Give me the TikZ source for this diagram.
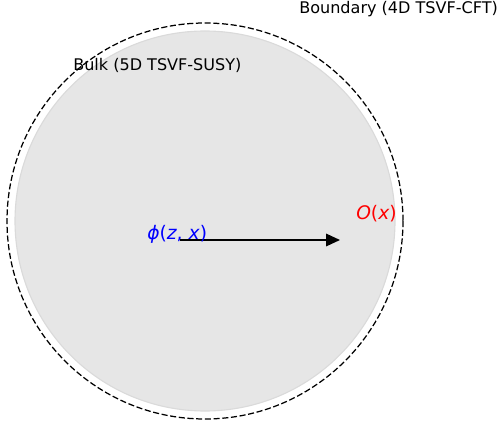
\documentclass[tikz,border=0pt]{standalone}
\usepackage{fontspec}
\setmainfont{DejaVu Sans}
\usepackage{xcolor}
\usepackage{tikz}
\usetikzlibrary{arrows.meta}
\definecolor{bulkgray}{RGB}{230,230,230}
\definecolor{bulkedge}{RGB}{218,218,218}

\begin{document}
\begin{tikzpicture}[x=0.72bp,y=-0.72bp,font=\fontsize{11.6}{14}\selectfont]
\useasboundingbox (0,0) rectangle (502,426);
\fill[bulkgray,draw=bulkedge,line width=0.8] (205,221) circle[radius=190];
\draw[dash pattern=on 4.4 off 1.9,line width=0.9] (205,221) circle[radius=198];
\node[anchor=west,inner sep=0] (bdry) at (299,9) {Boundary (4D TSVF-CFT)};
\node[anchor=west,inner sep=0] (bulk) at (73,65) {Bulk (5D TSVF-SUSY)};
\coordinate (src) at (180,240);
\coordinate (tgt) at (340,240);
\draw[line width=1.1,-{Triangle[length=10,width=9]}] (src) -- (tgt);
\node[blue,anchor=west,inner sep=0,font=\fontsize{13.5}{16}\selectfont] (phi) at (147,234) {\textit{ϕ}(\textit{z}, \textit{x})};
\node[red,anchor=west,inner sep=0,font=\fontsize{13.5}{16}\selectfont] (op) at (356,214) {\textit{O}(\textit{x})};
\end{tikzpicture}
\end{document}
